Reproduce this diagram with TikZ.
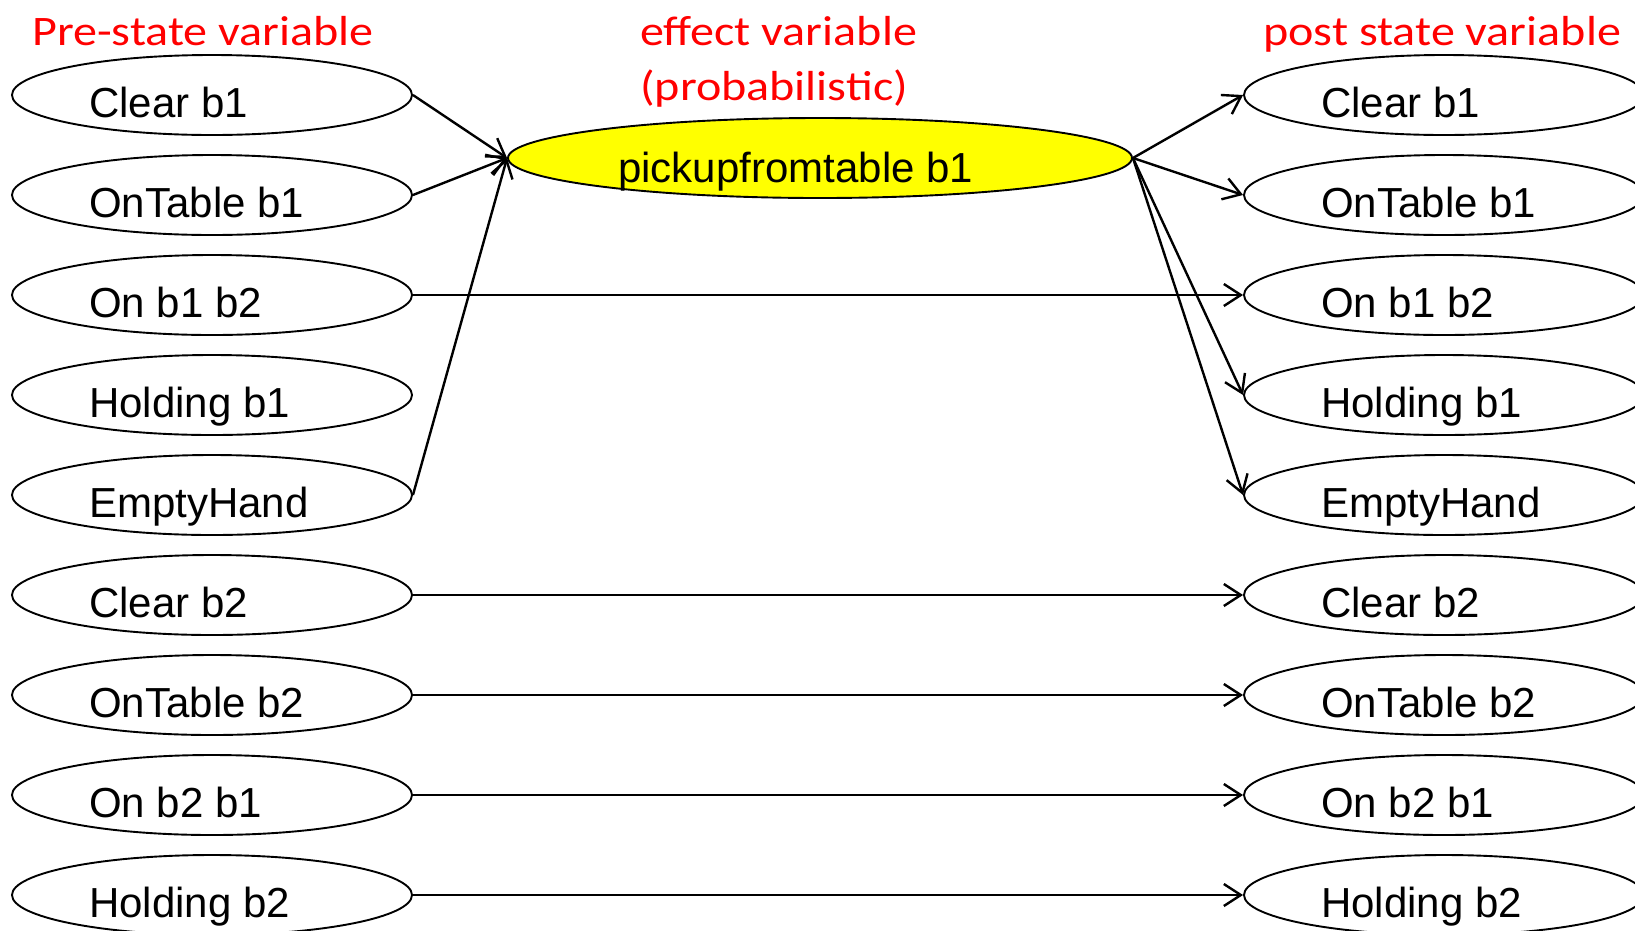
\documentclass[tikz,border=0pt]{standalone}
\usepackage{fontspec}
\setmainfont{Liberation Sans}
\newfontfamily\headfont{Carlito}
\usetikzlibrary{shapes.geometric,arrows.meta}

\definecolor{headred}{RGB}{255,0,0}
\definecolor{effectyellow}{RGB}{255,255,0}

\tikzset{
  varnode/.style={draw, ellipse, line width=1.9pt, inner sep=0pt,
                  minimum width=400pt, minimum height=80pt},
  effectnode/.style={draw, ellipse, line width=1.9pt, inner sep=0pt, fill=effectyellow,
                  minimum width=624pt, minimum height=80pt},
  varlabel/.style={anchor=base west, inner sep=0pt, font=\fontsize{42}{50}\selectfont},
  heading/.style={anchor=base west, inner sep=0pt, text=headred, xscale=1.145, transform shape,
                  font=\headfont\fontsize{42}{50}\selectfont},
  link/.style={line width=2.4pt, -{Straight Barb[length=17pt,width=22pt,line width=2.4pt]}},
}

\begin{document}
\begin{tikzpicture}[x=1pt, y=-1pt]
  \useasboundingbox (0,0) rectangle (1635,930);
  \clip (0,0) rectangle (1635,930);

  % column headings
  \node[heading] (hpre)  at (32,45)   {Pre-state variable};
  \node[heading] (heff1) at (640,45)  {effect variable};
  \node[heading] (heff2) at (640,100) {(probabilistic)};
  \node[heading] (hpost) at (1263,45) {post state variable};

  % pre-state (L) and post-state (R) variables, one row each
  \foreach \name/\txt [count=\i from 0] in {
      cb1/Clear b1, otb1/OnTable b1, onab/On b1 b2, hb1/Holding b1, eh/EmptyHand,
      cb2/Clear b2, otb2/OnTable b2, onba/On b2 b1, hb2/Holding b2} {
    \pgfmathsetmacro{\yc}{95+100*\i}
    \node[varnode] (L\name) at (212,\yc) {};
    \node[varlabel] (Lt\name) at ([xshift=78pt,yshift=-22pt]L\name.west) {\txt};
    \node[varnode] (R\name) at (1444,\yc) {};
    \node[varlabel] (Rt\name) at ([xshift=78pt,yshift=-22pt]R\name.west) {\txt};
  }

  % effect variable
  \node[effectnode] (act) at (820,158) {};
  \node[varlabel] (acttext) at ([xshift=111pt,yshift=-24pt]act.west) {pickupfromtable b1};

  % parents of the effect variable
  \foreach \name in {cb1, otb1, eh}
    \draw[link] (L\name.east) -- (act.west);

  % effects of the action
  \foreach \name in {cb1, otb1, hb1, eh}
    \draw[link] (act.east) -- (R\name.west);

  % unaffected variables carry over
  \foreach \name in {onab, cb2, otb2, onba, hb2}
    \draw[link] (L\name.east) -- (R\name.west);
\end{tikzpicture}
\end{document}
